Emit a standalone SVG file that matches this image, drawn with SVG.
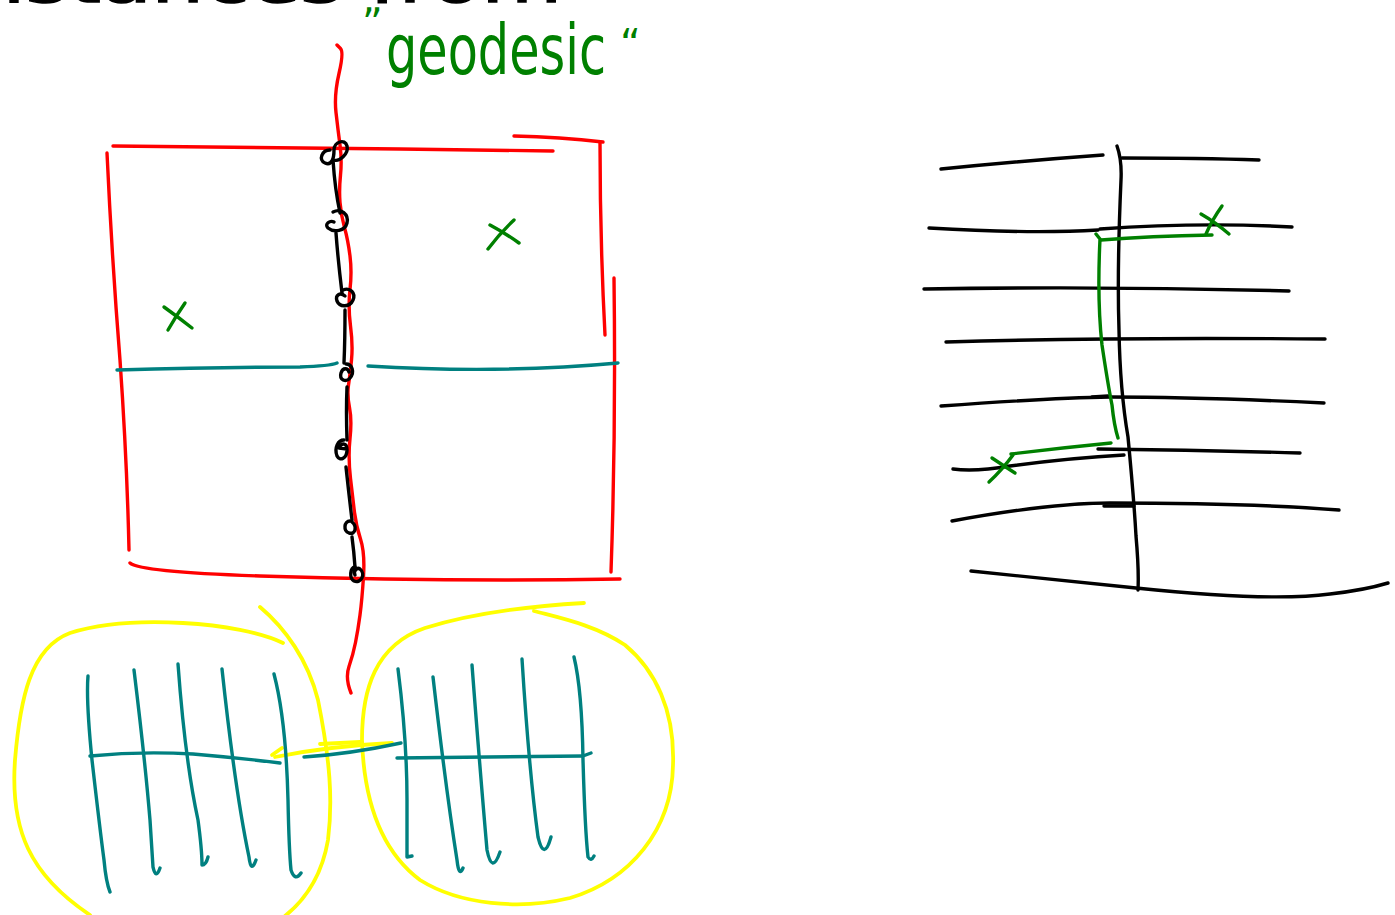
<svg xmlns="http://www.w3.org/2000/svg" width="1395" height="915" viewBox="0 0 1395 915">
  <style>
    .s { fill: none; stroke-width: 3.4; stroke-linecap: round; stroke-linejoin: round; }
    .red { stroke: #ff0000; }
    .blk { stroke: #000000; }
    .teal { stroke: #008080; }
    .grn { stroke: #008000; }
    .yel { stroke: #ffff00; stroke-width: 3.8; }
    .hand { font-family: "DejaVu Sans", "Noto Sans", sans-serif; }
  </style>
  <rect width="1395" height="915" fill="#ffffff"/>

  <!-- heading, running off the top edge -->
  <g id="heading">
    <text class="hand" x="-50" y="2" font-size="62" textLength="612" lengthAdjust="spacingAndGlyphs" fill="#000000" stroke="#000000" stroke-width="1.5">distances from</text>
  </g>

  <!-- green label -->
  <g id="label-geodesic" fill="#008000" class="hand">
    <text x="362" y="12" font-size="40">„</text>
    <text x="386" y="74" font-size="70" textLength="220" lengthAdjust="spacingAndGlyphs">geodesic</text>
    <text x="620" y="58" font-size="40">“</text>
  </g>

  <!-- red square with the teal divider -->
  <g id="square">
    <path class="s red" d="M113,146 Q250,148 400,149 L553,151"/>
    <path class="s red" d="M514,136 Q560,137 603,142"/>
    <path class="s red" d="M107,153 Q112,260 120,360 Q127,460 129,550"/>
    <path class="s red" d="M600,142 Q600,240 605,335"/>
    <path class="s red" d="M614,278 Q616,430 611,572"/>
    <path class="s red" d="M130,563 Q140,572 260,576 Q450,582 620,579"/>
    <path class="s teal" d="M117,370 Q220,367 300,367 Q330,366 337,363"/>
    <path class="s teal" d="M368,366 Q500,374 618,363"/>
  </g>

  <!-- red geodesic through the square -->
  <g id="geodesic-curve">
    <path class="s red" d="M337,45 L340.5,48.5 Q344,52 339,73.5 Q334,95 336,112.5 Q338,130 340,145 Q342,160 340.5,175 Q339,190 340,202.5 Q341,215 344.5,227.5 Q348,240 350,256 Q352,272 350,289.5 Q348,307 350.5,326 Q353,345 351.5,360 Q350,375 348.5,385 Q347,395 349.5,407.5 Q352,420 350,438.5 Q348,457 350.5,478.5 Q353,500 354.5,512.5 Q356,525 360.5,539 Q365,553 363.5,576.5 Q362,600 360,615 Q358,630 355.5,642.5 Q353,655 349,666.5 Q345,678 351,693"/>
  </g>

  <!-- black chain of points along the geodesic -->
  <g id="chain">
    <path class="s blk" d="M333,160 Q335,190 340,213"/>
    <path class="s blk" d="M336,233 Q338,260 342,293"/>
    <path class="s blk" d="M345,310 Q345,340 344,363"/>
    <path class="s blk" d="M347,387 Q346,410 347,440"/>
    <path class="s blk" d="M346,467 Q349,495 352,520"/>
    <path class="s blk" d="M352,537 Q354,552 355,567"/>
    <path class="s blk" d="M330,150 C322,150 318,160 325,163 C332,166 334,158 334,150 C334,142 345,138 347,146 C349,154 339,162 334,160"/>
    <path class="s blk" d="M333,212 C341,208 349,214 347,223 C345,231 334,233 328,228 C324,224 330,220 334,222"/>
    <path class="s blk" d="M343,290 C350,287 356,293 353,300 C350,307 340,308 337,301 C335,295 340,292 345,296"/>
    <path class="s blk" d="M346,364 C352,364 355,372 350,378 C346,383 339,380 341,373 C343,367 348,368 349,372"/>
    <path class="s blk" d="M344,440 C338,440 334,448 337,456 C340,462 347,458 347,450 C347,443 342,442 339,448 L347,449"/>
    <path class="s blk" d="M350,521 C344,521 343,531 349,533 C356,535 357,526 352,522"/>
    <path class="s blk" d="M355,567 C350,568 349,578 354,581 C361,584 366,574 360,569 C357,567 353,571 355,575"/>
  </g>

  <!-- green marks in the square -->
  <g id="marks-square">
    <path class="s grn" d="M164,307 Q178,317 192,328"/>
    <path class="s grn" d="M185,303 Q176,316 168,330"/>
    <path class="s grn" d="M490,225 Q505,233 519,243"/>
    <path class="s grn" d="M514,220 Q500,233 488,249"/>
  </g>

  <!-- layered picture on the right -->
  <g id="layers">
    <path class="s blk" d="M1117,146 Q1122,160 1121,180 Q1117,270 1119,330 Q1120,390 1128,437 Q1134,500 1136,536 Q1139,570 1138,590"/>
    <path class="s blk" d="M941,169 Q1020,161 1103,155"/>
    <path class="s blk" d="M1122,158 Q1200,158 1259,160"/>
    <path class="s blk" d="M929,228 Q1030,234 1098,230"/>
    <path class="s blk" d="M1100,229 Q1200,222 1292,227"/>
    <path class="s blk" d="M924,289 Q1105,286 1289,291"/>
    <path class="s blk" d="M946,342 Q1108,337 1325,339"/>
    <path class="s blk" d="M941,406 Q1050,398 1110,397 Q1197,397 1324,403"/>
    <path class="s blk" d="M1092,397 L1108,396" stroke-width="4.5"/>
    <path class="s blk" d="M1098,449 Q1200,450 1300,453"/>
    <path class="s blk" d="M953,469 Q975,472 1010,466 Q1070,458 1124,455"/>
    <path class="s blk" d="M952,521 Q1050,503 1110,503 Q1250,503 1339,510"/>
    <path class="s blk" d="M1104,506 L1134,506" stroke-width="4"/>
    <path class="s blk" d="M971,571 Q1060,580 1136,588 Q1270,602 1330,594 Q1365,590 1388,583"/>
  </g>

  <!-- green path between two points on the layers -->
  <g id="layer-path">
    <path class="s grn" d="M1212,235 Q1150,236 1101,240"/>
    <path class="s grn" d="M1096,234 L1100,239 Q1097,300 1102,345 Q1108,385 1112,405 Q1114,425 1118,438"/>
    <path class="s grn" d="M1111,443 Q1060,448 1011,454"/>
    <path class="s grn" d="M1201,214 Q1215,222 1229,234"/>
    <path class="s grn" d="M1222,206 Q1212,220 1206,234"/>
    <path class="s grn" d="M992,458 Q1004,466 1015,473"/>
    <path class="s grn" d="M1013,455 Q1002,470 989,482"/>
  </g>

  <!-- yellow outlines round the two grids -->
  <g id="blobs">
    <path class="s yel" d="M283,643 C240,622 130,614 70,633 C30,648 20,700 15,760 C10,830 30,875 90,915"/>
    <path class="s yel" d="M260,607 C285,628 308,660 318,700 C330,760 333,800 328,840 C322,875 305,900 285,916"/>
    <path class="s yel" d="M584,603 C530,606 470,614 425,628 C375,645 362,690 362,740 C364,800 380,850 420,880 C460,905 520,910 570,898 C630,880 672,830 673,765 C675,710 655,670 625,645 C595,625 560,618 534,611"/>
    <path class="s yel" d="M392,743 Q330,746 275,757"/>
    <path class="s yel" d="M272,755 L282,748"/>
    <path class="s yel" d="M320,744 L360,742"/>
  </g>

  <!-- teal grid, left -->
  <g id="grid-left">
    <path class="s teal" d="M88,676 Q86,700 92,760 Q100,830 104,860 Q106,882 110,892"/>
    <path class="s teal" d="M134,670 Q145,760 150,820 Q152,850 153,867 Q156,880 160,868"/>
    <path class="s teal" d="M178,664 Q185,760 198,820 Q202,850 202,865 Q206,865 208,857"/>
    <path class="s teal" d="M222,669 Q235,790 249,857 Q251,874 256,860"/>
    <path class="s teal" d="M274,674 Q286,720 288,800 Q289,850 291,870 Q295,882 301,873"/>
    <path class="s teal" d="M90,756 Q140,751 193,754 Q240,758 280,763"/>
    <path class="s teal" d="M304,757 Q350,754 401,743"/>
  </g>

  <!-- teal grid, right -->
  <g id="grid-right">
    <path class="s teal" d="M398,669 Q407,740 407,800 L407,857 L412,856"/>
    <path class="s teal" d="M433,677 Q446,790 457,860 Q459,878 463,868"/>
    <path class="s teal" d="M472,665 Q480,770 487,850 Q492,875 500,852"/>
    <path class="s teal" d="M522,659 Q529,770 538,837 Q544,862 551,837"/>
    <path class="s teal" d="M574,657 Q582,690 583,760 Q585,830 588,857 Q591,862 594,856"/>
    <path class="s teal" d="M397,758 Q493,757 583,756 L591,753"/>
  </g>
</svg>
